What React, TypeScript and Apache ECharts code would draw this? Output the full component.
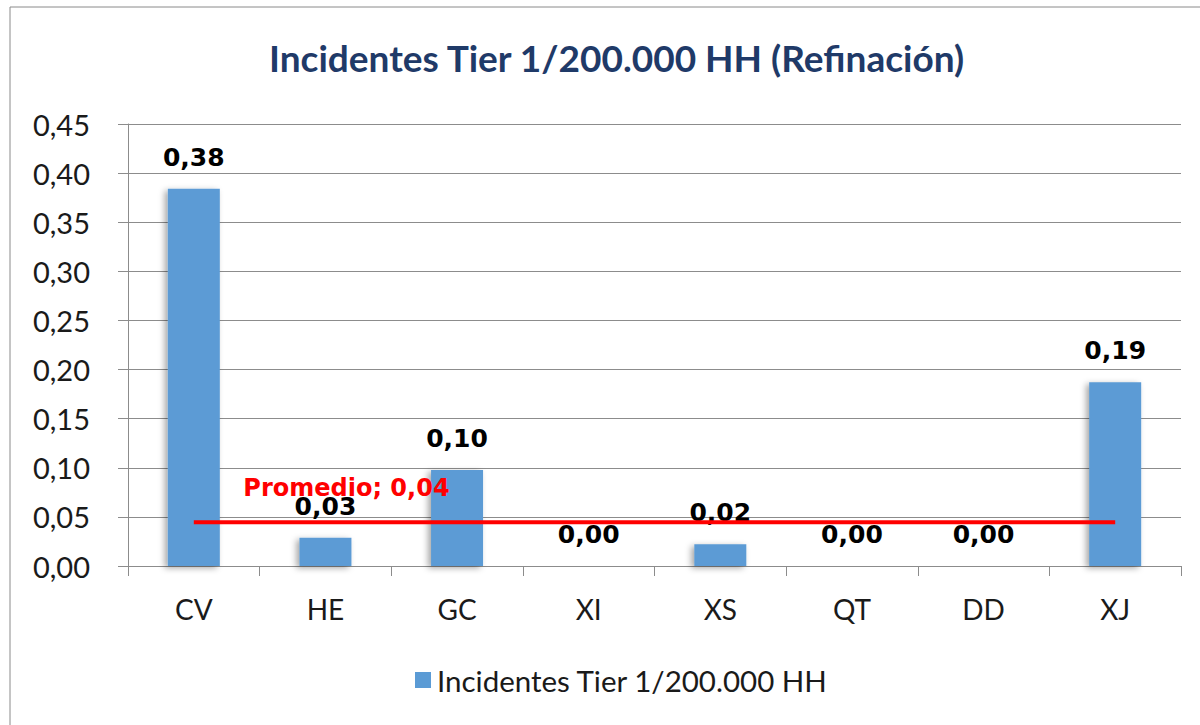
import React, { useEffect, useRef } from "react";
import * as echarts from "echarts";

const categories = ["CV", "HE", "GC", "XI", "XS", "QT", "DD", "XJ"];
const incidentes = [0.384, 0.0288, 0.0978, 0, 0.0221, 0, 0, 0.187];
const promedio = 0.0445;
const promedioLabelIndex = 1;
const yTicks = { min: 0, max: 0.45, interval: 0.05 };
const seriesName = "Incidentes Tier 1/200.000 HH";
const avgName = "Promedio";
const titleText = "Incidentes Tier 1/200.000 HH (Refinación)";

const fmt = (v: number) => v.toFixed(2).replace(".", ",");

export default function App() {
  const ref = useRef<HTMLDivElement>(null);
  useEffect(() => {
    if (!ref.current) return;
    const chart = echarts.init(ref.current, null, { renderer: "svg" });
    const avgData = categories.map(() => promedio);
    chart.setOption({
      animation: false,
      backgroundColor: "#ffffff",
      title: {
        text: titleText,
        left: 264,
        top: 34,
        textStyle: {
          fontFamily: "Lato",
          fontWeight: "bold",
          fontSize: 37,
          color: "#1F3A68",
        },
      },
      graphic: [
        {
          type: "rect",
          shape: { x: 10, y: 7, width: 1200, height: 730 },
          style: { fill: "none", stroke: "#8a8a8a", lineWidth: 1 },
          silent: true,
        },
      ],
      legend: {
        data: [seriesName],
        left: 410,
        top: 660,
        itemWidth: 16,
        itemHeight: 16,
        itemGap: 10,
        icon: "rect",
        textStyle: { fontFamily: "Lato", fontSize: 29.5, color: "#1a1a1a", padding: [0, 0, 0, 1] },
      },
      grid: { left: 128, top: 124, width: 1053, height: 442 },
      xAxis: {
        type: "category",
        data: categories,
        boundaryGap: true,
        axisLine: { lineStyle: { color: "#8c8c8c", width: 1 } },
        axisTick: { show: true, length: 10, lineStyle: { color: "#8c8c8c" } },
        axisLabel: { fontFamily: "Lato", fontSize: 28, color: "#1a1a1a", margin: 29 },
      },
      yAxis: {
        type: "value",
        min: yTicks.min,
        max: yTicks.max,
        interval: yTicks.interval,
        axisLine: { show: true, lineStyle: { color: "#8c8c8c", width: 1 } },
        axisTick: { show: true, length: 10, lineStyle: { color: "#8c8c8c" } },
        splitLine: { lineStyle: { color: "#8c8c8c", width: 1 } },
        axisLabel: {
          fontFamily: "Lato",
          fontSize: 29,
          color: "#1a1a1a",
          margin: 38,
          formatter: (v: number) => fmt(v),
        },
      },
      series: [
        {
          name: seriesName,
          type: "bar",
          data: incidentes,
          barWidth: 52,
          itemStyle: {
            color: "#5B9BD5",
            shadowBlur: 6,
            shadowColor: "rgba(0,0,0,0.35)",
            shadowOffsetX: -3,
            shadowOffsetY: 2,
          },
          label: {
            show: true,
            position: "top",
            distance: 19,
            fontFamily: "DejaVu Sans",
            fontWeight: "bold",
            fontSize: 25,
            color: "#000000",
            formatter: (p: any) => fmt(p.value),
          },
          z: 2,
        },
        {
          name: avgName,
          type: "line",
          data: avgData,
          symbol: "none",
          showSymbol: false,
          lineStyle: { color: "#FF0000", width: 4 },
          itemStyle: { color: "#FF0000" },
          z: 5,
          markPoint: {
            symbol: "circle",
            symbolSize: 0,
            silent: true,
            data: [
              {
                coord: [promedioLabelIndex, promedio],
                value: promedio,
              },
            ],
            label: {
              show: true,
              position: "top",
              distance: 22,
              offset: [21, 0],
              fontFamily: "DejaVu Sans",
              fontWeight: "bold",
              fontSize: 24,
              color: "#FF0000",
              formatter: (p: any) => `${avgName}; ${fmt(p.value)}`,
            },
          },
        },
      ],
    });
    return () => chart.dispose();
  }, []);
  return (
    <div
      ref={ref}
      style={{ position: "fixed", left: 0, top: 0, width: 1200, height: 725 }}
    />
  );
}
